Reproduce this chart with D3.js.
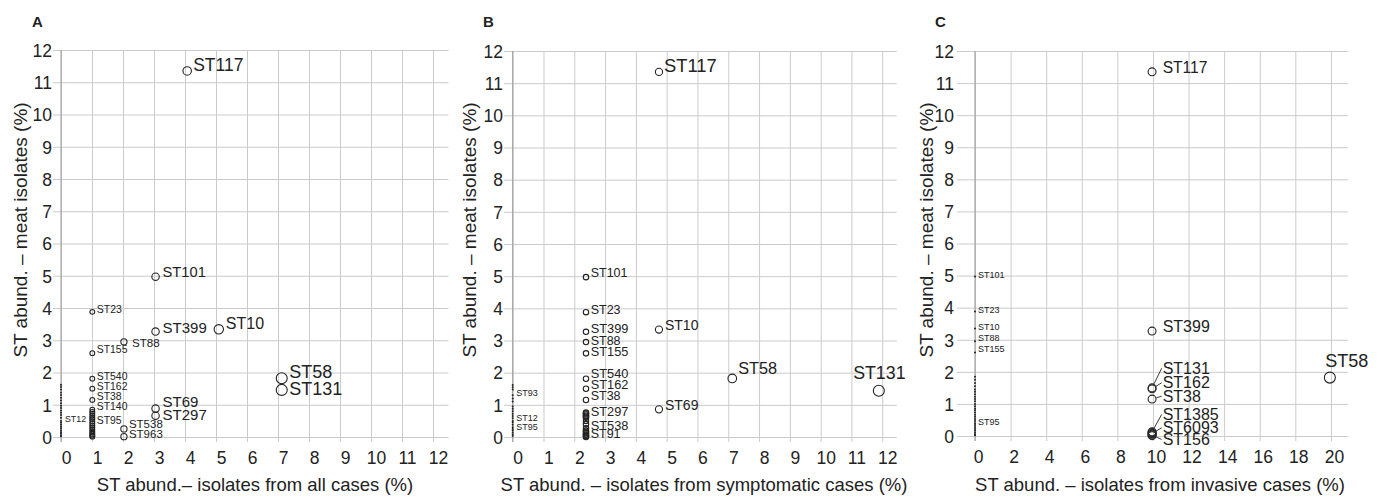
<!DOCTYPE html>
<html>
<head>
<meta charset="utf-8">
<title>ST abundance: meat vs. human isolates</title>
<script src="https://d3js.org/d3.v7.min.js"></script>
<style>
	body { margin: 0; background: #fff; }
	text { font-family: "Liberation Sans", Arial, sans-serif; fill: #222; }
</style>
</head>
<body>
<script>

	// tick values
	var yTicks = [0, 1, 2, 3, 4, 5, 6, 7, 8, 9, 10, 11, 12];
	var xTicksAB = [0, 1, 2, 3, 4, 5, 6, 7, 8, 9, 10, 11, 12];
	var xTicksC = [0, 2, 4, 6, 8, 10, 12, 14, 16, 18, 20];

	// labelled STs : x = % of human isolates, y = % of meat isolates
	var pointsA = [
		{ st: "ST117", x: 4.07, y: 11.35 },
		{ st: "ST101", x: 3.05, y: 4.97 },
		{ st: "ST23",  x: 1.01, y: 3.88 },
		{ st: "ST399", x: 3.05, y: 3.27 },
		{ st: "ST10",  x: 5.09, y: 3.34 },
		{ st: "ST88",  x: 2.03, y: 2.95 },
		{ st: "ST155", x: 1.01, y: 2.6 },
		{ st: "ST58",  x: 7.12, y: 1.82 },
		{ st: "ST131", x: 7.12, y: 1.46 },
		{ st: "ST540", x: 1.01, y: 1.81 },
		{ st: "ST162", x: 1.01, y: 1.5 },
		{ st: "ST38",  x: 1.01, y: 1.15 },
		{ st: "ST140", x: 1.01, y: 0.85 },
		{ st: "ST69",  x: 3.05, y: 0.88 },
		{ st: "ST297", x: 3.05, y: 0.66 },
		{ st: "ST95",  x: 1.01, y: 0.42 },
		{ st: "ST538", x: 2.03, y: 0.25 },
		{ st: "ST963", x: 2.03, y: 0.01 },
		{ st: "ST12",  x: 0,    y: 0.5 }
	];
	var pointsB = [
		{ st: "ST117", x: 4.75, y: 11.35 },
		{ st: "ST101", x: 2.38, y: 4.97 },
		{ st: "ST23",  x: 2.38, y: 3.88 },
		{ st: "ST399", x: 2.38, y: 3.27 },
		{ st: "ST88",  x: 2.38, y: 2.95 },
		{ st: "ST155", x: 2.38, y: 2.6 },
		{ st: "ST10",  x: 4.75, y: 3.34 },
		{ st: "ST540", x: 2.38, y: 1.81 },
		{ st: "ST162", x: 2.38, y: 1.5 },
		{ st: "ST38",  x: 2.38, y: 1.15 },
		{ st: "ST297", x: 2.38, y: 0.7 },
		{ st: "ST538", x: 2.38, y: 0.27 },
		{ st: "ST91",  x: 2.38, y: 0.05 },
		{ st: "ST69",  x: 4.75, y: 0.86 },
		{ st: "ST58",  x: 7.13, y: 1.82 },
		{ st: "ST131", x: 11.89, y: 1.44 },
		{ st: "ST93",  x: 0,    y: 1.3 },
		{ st: "ST12",  x: 0,    y: 0.5 },
		{ st: "ST95",  x: 0,    y: 0.25 }
	];
	var pointsC = [
		{ st: "ST117", x: 9.95, y: 11.35 },
		{ st: "ST399", x: 9.95, y: 3.27 },
		{ st: "ST131", x: 9.95, y: 1.5 },
		{ st: "ST162", x: 9.95, y: 1.47 },
		{ st: "ST38",  x: 9.95, y: 1.15 },
		{ st: "ST1385", x: 9.95, y: 0.13 },
		{ st: "ST6093", x: 9.95, y: 0.08 },
		{ st: "ST156", x: 9.95, y: 0.03 },
		{ st: "ST58",  x: 19.94, y: 1.82 },
		{ st: "ST101", x: 0, y: 4.97 },
		{ st: "ST23",  x: 0, y: 3.88 },
		{ st: "ST10",  x: 0, y: 3.35 },
		{ st: "ST88",  x: 0, y: 2.95 },
		{ st: "ST155", x: 0, y: 2.6 },
		{ st: "ST95",  x: 0, y: 0.4 }
	];

	// unlabelled STs : y values of the ones sitting at x = 0
	var zeroA = [1.62, 1.55, 1.47, 1.38, 1.3, 1.22, 1.13, 1.05, 0.97, 0.9, 0.82, 0.75, 0.68, 0.6, 0.44, 0.38, 0.32, 0.26, 0.2, 0.15, 0.1, 0.05, 0.02];
	var zeroB = [1.62, 1.55, 1.48, 1.2, 1.1, 0.95, 0.88, 0.8, 0.72, 0.65, 0.58, 0.45, 0.38, 0.3, 0.2, 0.14, 0.08, 0.03];
	var zeroC = [1.85, 1.75, 1.65, 1.55, 1.45, 1.38, 1.3, 1.22, 1.15, 1.08, 1.0, 0.93, 0.86, 0.8, 0.73, 0.66, 0.6, 0.53, 0.47, 0.34, 0.28, 0.22, 0.16, 0.1, 0.05, 0.02];

	// unlabelled STs in the crowded column of each panel
	var columnXA = 1.01, columnYA = [0.78, 0.72, 0.66, 0.6, 0.55, 0.48, 0.36, 0.3, 0.24, 0.18, 0.13, 0.08, 0.04, 0.01];
	var columnXB = 2.38, columnYB = [0.76, 0.73, 0.66, 0.63, 0.6, 0.5, 0.4, 0.2, 0.16, 0.12, 0.08, 0.03, 0.0];
	var columnXC = 9.95, columnYC = [0.11, 0.06, 0.01];

	// label placement : [font size, dx, dy(baseline from centre), anchor, leader line]
	var labelLayout = {
		A: {
			ST117: [17.5, 6, 0], ST101: [14.7, 7, 0], ST23: [10.5, 4.5, 1], ST399: [15, 7, 1],
			ST10: [16, 7, 0], ST88: [11.6, 8, 5], ST155: [10.4, 4.5, 0], ST58: [18, 7.5, 0],
			ST131: [18, 7.5, 5], ST540: [10.4, 4.5, 1], ST162: [10.4, 4.5, 1], ST38: [10.4, 4.5, 0],
			ST140: [10.4, 4.5, 0.5], ST69: [15, 7, -2], ST297: [15, 7, 4], ST95: [10.4, 4.5, 1],
			ST538: [11.5, 5, -1], ST963: [11.5, 5, 1.5], ST12: [8.8, 4, 1]
		},
		B: {
			ST117: [18.4, 5, 0.5], ST101: [12.5, 4.7, 0], ST23: [12.5, 4.7, 1.5], ST399: [12.8, 4.7, 1.5],
			ST88: [12.5, 4.7, 3], ST155: [12.8, 4.7, 2.5], ST10: [14, 6, 0], ST540: [12.8, 4.7, -1],
			ST162: [12.8, 4.7, 0.7], ST38: [12.5, 4.7, 0], ST297: [12.8, 4.7, 2], ST538: [12.8, 4.7, 2],
			ST91: [12.5, 4.7, 3], ST69: [14, 6, 0.7], ST58: [16.3, 6, -4], ST131: [17.8, 0.5, -11.7, "middle"],
			ST93: [9, 3.5, 0.5], ST12: [9, 3.5, 0.5], ST95: [9, 3.5, 1]
		},
		C: {
			ST117: [15.6, 10.6, 1.6], ST399: [16, 10.6, 0.7],
			ST131: [16, 10.6, -14, "start", true], ST162: [16, 10.6, -0.5, "start", true],
			ST38: [16, 10.6, 2.7, "start", true], ST1385: [16, 10.6, -11.8, "start", true],
			ST6093: [16, 10.6, 0, "start", true], ST156: [16, 10.6, 10, "start", true],
			ST58: [18, 17, -11, "middle"],
			ST101: [9, 3, 1.5], ST23: [9, 3, 1], ST10: [9, 3, 1], ST88: [9, 3, -0.5], ST155: [9, 3, -0.5], ST95: [9, 3, 2]
		}
	};

	var Settings = {
		width: 1382,
		height: 497,
		gridColor: "#cbcbcb",
		axisColor: "#999",
		ink: "#222",
		tickFont: 17.5,
		titleFont: 18.5,
		yTitleFont: 19,
		yTitleCentre: 230
	};

	// panel frames
	var panels = [
		{ key: "A", letterX: 32, left: 61, right: 448.5, top: 50, bottom: 437, xMax: 12.5, rMax: 7.12,
		  xTicks: xTicksAB, tickExt: 8, tickPad: 1, labelDx: 5, yTitleX: 27, xTitleX: 255,
		  xTitle: "ST abund.\u2013 isolates from all cases (%)",
		  points: pointsA, zero: zeroA, columnX: columnXA, columnY: columnYA },
		{ key: "B", letterX: 483, left: 512.7, right: 896.7, top: 51, bottom: 437, xMax: 12.47, rMax: 11.89,
		  xTicks: xTicksAB, tickExt: 8.7, tickPad: 1, labelDx: 5, yTitleX: 476, xTitleX: 704,
		  xTitle: "ST abund. \u2013 isolates from symptomatic cases (%)",
		  points: pointsB, zero: zeroB, columnX: columnXB, columnY: columnYB },
		{ key: "C", letterX: 935, left: 975, right: 1348, top: 51, bottom: 436, xMax: 20.96, rMax: 19.94,
		  xTicks: xTicksC, tickExt: 18, tickPad: 3, labelDx: 3, yTitleX: 933, xTitleX: 1160,
		  xTitle: "ST abund. \u2013 isolates from invasive cases (%)",
		  points: pointsC, zero: zeroC, columnX: columnXC, columnY: columnYC }
	];

	var svg = d3.select("body").append("svg")
		.attr("width", Settings.width)
		.attr("height", Settings.height)
		.style("background", "#fff");

	panels.forEach(drawPanel);

	function drawPanel(p) {
		var g = svg.append("g").attr("class", "panel-" + p.key);
		var x = d3.scaleLinear().domain([0, p.xMax]).range([p.left, p.right]);
		var y = d3.scaleLinear().domain([0, 12]).range([p.bottom, p.top]);
		var r = d3.scalePow().exponent(0.6).domain([0, p.rMax]).range([1, 5.5]);

		// horizontal grid + y tick labels
		var yAxis = g.append("g")
			.attr("transform", "translate(" + p.right + ",0)")
			.call(d3.axisLeft(y).tickValues(yTicks)
				.tickSize(p.right - p.left + p.tickExt).tickPadding(p.tickPad));
		yAxis.select(".domain").remove();
		yAxis.selectAll("line").attr("stroke", Settings.gridColor);
		yAxis.selectAll("text").attr("font-size", Settings.tickFont).attr("font-family", null)
			.attr("fill", Settings.ink).attr("dy", "0.36em");

		// vertical grid + x tick labels
		var xAxis = g.append("g")
			.attr("transform", "translate(0," + p.top + ")")
			.call(d3.axisBottom(x).tickValues(p.xTicks)
				.tickSize(p.bottom - p.top + 5).tickPadding(9.5));
		xAxis.select(".domain").remove();
		xAxis.selectAll("line").attr("stroke", Settings.gridColor);
		xAxis.selectAll("text").attr("font-size", Settings.tickFont).attr("font-family", null)
			.attr("fill", Settings.ink).attr("dx", p.labelDx);

		// y axis line
		g.append("line")
			.attr("x1", x(0)).attr("x2", x(0))
			.attr("y1", p.top).attr("y2", p.bottom + 5)
			.attr("stroke", Settings.axisColor);

		// panel letter
		g.append("text")
			.attr("x", p.letterX).attr("y", 27)
			.attr("font-size", 15).attr("font-weight", "bold")
			.text(p.key);

		// axis titles
		g.append("text")
			.attr("transform", "translate(" + p.yTitleX + "," + Settings.yTitleCentre + ") rotate(-90)")
			.attr("text-anchor", "middle")
			.attr("font-size", Settings.yTitleFont)
			.text("ST abund. \u2013 meat isolates (%)");
		g.append("text")
			.attr("x", p.xTitleX).attr("y", 491)
			.attr("text-anchor", "middle")
			.attr("font-size", Settings.titleFont)
			.text(p.xTitle);

		// STs absent from the human set : tiny dots on the axis
		g.selectAll(".zero")
			.data(p.zero).enter().append("circle")
			.attr("class", "zero")
			.attr("cx", x(0)).attr("cy", function (d) { return y(d); })
			.attr("r", 1).attr("fill", Settings.ink);

		// crowded column
		g.selectAll(".col")
			.data(p.columnY).enter().append("circle")
			.attr("class", "col")
			.attr("cx", x(p.columnX)).attr("cy", function (d) { return y(d); })
			.attr("r", r(p.columnX))
			.attr("fill", "none").attr("stroke", Settings.ink).attr("stroke-width", 1.1);

		// labelled STs
		var lay = labelLayout[p.key];
		var pts = g.selectAll(".pt").data(p.points).enter().append("g").attr("class", "pt");

		pts.append("circle")
			.attr("cx", function (d) { return x(d.x); })
			.attr("cy", function (d) { return y(d.y); })
			.attr("r", function (d) { return d.x === 0 ? 1 : r(d.x); })
			.attr("fill", function (d) { return d.x === 0 ? Settings.ink : "none"; })
			.attr("stroke", Settings.ink)
			.attr("stroke-width", function (d) { return d.x === 0 ? 0 : 1.1; });

		pts.append("text")
			.attr("x", function (d) { return x(d.x) + lay[d.st][1]; })
			.attr("y", function (d) { return y(d.y) + lay[d.st][2]; })
			.attr("font-size", function (d) { return lay[d.st][0]; })
			.attr("text-anchor", function (d) { return lay[d.st][3] || "start"; })
			.text(function (d) { return d.st; });

		// leader lines (crowded labels in panel C)
		pts.filter(function (d) { return lay[d.st][4]; })
			.append("line")
			.each(function (d) {
				var l = lay[d.st];
				var cx = x(d.x), cy = y(d.y), rad = r(d.x) + 0.5;
				var tx = cx + l[1] - 1, ty = cy + l[2] - l[0] * 0.35;
				var ang = Math.atan2(ty - cy, tx - cx);
				d3.select(this)
					.attr("x1", cx + rad * Math.cos(ang)).attr("y1", cy + rad * Math.sin(ang))
					.attr("x2", tx).attr("y2", ty)
					.attr("stroke", Settings.ink).attr("stroke-width", 0.9);
			});
	}

</script>
</body>
</html>
